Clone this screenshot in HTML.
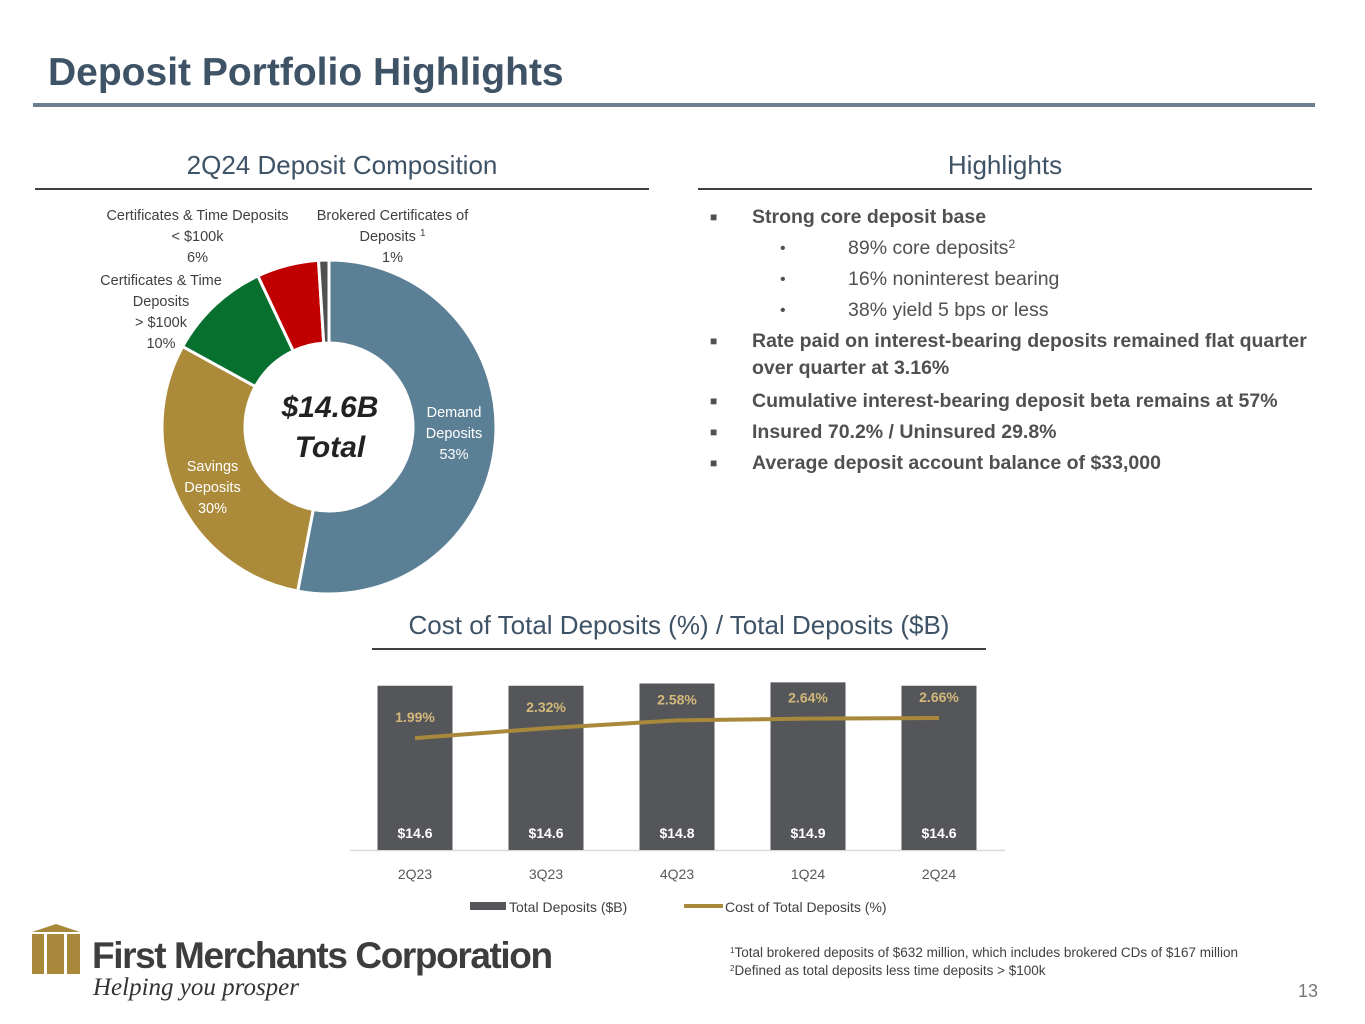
<!DOCTYPE html>
<html><head><meta charset="utf-8">
<style>
body{margin:0;width:1365px;height:1024px;background:#fff;position:relative;overflow:hidden;font-family:"Liberation Sans",sans-serif;}
.abs{position:absolute;}
.title{left:48px;top:51px;font-size:39px;font-weight:bold;color:#3f5366;}
.sec{font-size:26px;color:#3f5366;text-align:center;}
.hl{left:710px;top:202px;font-size:19.5px;color:#505050;line-height:31px;}
.hl div{position:relative;height:31px;}
.b{font-weight:bold;}
.sq{position:absolute;left:0;font-size:12px;}
sup{line-height:0;vertical-align:0;position:relative;top:-0.5em;}
.lbl{position:absolute;font-size:14.5px;color:#404040;text-align:center;line-height:21px;}
</style></head>
<body>
<div class="abs title">Deposit Portfolio Highlights</div>
<div class="abs" style="left:33px;top:103px;width:1282px;height:4px;background:#6b7f91"></div>

<div class="abs sec" style="left:35px;top:150px;width:614px">2Q24 Deposit Composition</div>
<div class="abs" style="left:35px;top:188px;width:614px;height:2px;background:#404040"></div>
<div class="abs sec" style="left:698px;top:150px;width:614px">Highlights</div>
<div class="abs" style="left:698px;top:188px;width:614px;height:2px;background:#404040"></div>

<svg class="abs" style="left:0;top:0" width="700" height="620" id="donut"></svg>
<div class="lbl" style="left:95px;top:206px;width:205px">Certificates &amp; Time Deposits<br>&lt; $100k<br>6%</div>
<div class="lbl" style="left:305px;top:206px;width:175px">Brokered Certificates of<br>Deposits <sup style="font-size:10px">1</sup><br>1%</div>
<div class="lbl" style="left:85px;top:271px;width:152px">Certificates &amp; Time<br>Deposits<br>&gt; $100k<br>10%</div>
<div class="lbl" style="left:410px;top:403px;width:88px;color:#fff">Demand<br>Deposits<br>53%</div>
<div class="lbl" style="left:170px;top:457px;width:85px;color:#fff">Savings<br>Deposits<br>30%</div>
<div class="abs" style="left:250px;top:388px;width:160px;text-align:center;font-size:30px;font-weight:bold;font-style:italic;color:#222;line-height:40px">$14.6B<br>Total</div>

<div class="abs hl">
<div class="b" style="padding-left:42px"><span class="sq">■</span>Strong core deposit base</div>
<div style="padding-left:138px"><span class="sq" style="left:70px;font-size:16px">•</span>89% core deposits<sup style="font-size:12px">2</sup></div>
<div style="padding-left:138px"><span class="sq" style="left:70px;font-size:16px">•</span>16% noninterest bearing</div>
<div style="padding-left:138px"><span class="sq" style="left:70px;font-size:16px">•</span>38% yield 5 bps or less</div>
<div class="b" style="padding-left:42px;line-height:27px;height:58px;padding-top:2px"><span class="sq">■</span>Rate paid on interest-bearing deposits remained flat quarter<br>over quarter at 3.16%</div>
<div class="b" style="padding-left:42px"><span class="sq">■</span>Cumulative interest-bearing deposit beta remains at 57%</div>
<div class="b" style="padding-left:42px"><span class="sq">■</span>Insured 70.2% / Uninsured 29.8%</div>
<div class="b" style="padding-left:42px"><span class="sq">■</span>Average deposit account balance of $33,000</div>
</div>

<div class="abs sec" style="left:372px;top:610px;width:614px">Cost of Total Deposits (%) / Total Deposits ($B)</div>
<div class="abs" style="left:372px;top:648px;width:614px;height:2px;background:#404040"></div>
<svg class="abs" style="left:0;top:0" width="1365" height="930" id="bars"></svg>

<div class="abs" style="left:30px;top:922px;width:52px;height:56px">
<svg width="52" height="56"><polygon points="2,10 26,2 50,10 50,52 2,52" fill="#a8883a"/><rect x="14" y="12" width="3" height="40" fill="#fff"/><rect x="34" y="12" width="3" height="40" fill="#fff"/><rect x="2" y="10" width="48" height="2" fill="#fff"/></svg></div>
<div class="abs" style="left:92px;top:935px;font-size:37px;font-weight:bold;color:#3d3d3d;letter-spacing:-1.4px">First Merchants Corporation</div>
<div class="abs" style="left:93px;top:974px;font-size:25px;font-style:italic;font-family:'Liberation Serif',serif;color:#333">Helping you prosper</div>
<div class="abs" style="left:730px;top:944px;font-size:13.5px;color:#404040;line-height:18px"><sup style="font-size:8px">1</sup>Total brokered deposits of $632 million, which includes brokered CDs of $167 million<br><sup style="font-size:8px">2</sup>Defined as total deposits less time deposits &gt; $100k</div>
<div class="abs" style="left:1298px;top:981px;font-size:18px;color:#777">13</div>

<script>
const sliceNames=["demand","savings","cd-over-100k","cd-under-100k","brokered"];
const slicePct=[53,30,10,6,1];
const sliceColors=["#5b7f95","#ab8a3a","#08702f","#c00000","#505050"];
const quarters=["2Q23","3Q23","4Q23","1Q24","2Q24"];
const totalDeposits=[14.6,14.6,14.8,14.9,14.6];
const totalLabels=["$14.6","$14.6","$14.8","$14.9","$14.6"];
const costPct=[1.99,2.32,2.58,2.64,2.66];
const costLabels=["1.99%","2.32%","2.58%","2.64%","2.66%"];
const NS="http://www.w3.org/2000/svg";
function mk(parent,tag,attrs){const e=document.createElementNS(NS,tag);for(const k in attrs)e.setAttribute(k,attrs[k]);parent.appendChild(e);return e;}
const d=document.getElementById('donut');
const cx=329,cy=427,R=167,r=84;
let acc=0;const tot=slicePct.reduce((a,b)=>a+b,0);
slicePct.forEach((v,i)=>{
 const a0=acc/tot*2*Math.PI,a1=(acc+v)/tot*2*Math.PI;acc+=v;
 const p=(a,rr)=>[cx+rr*Math.sin(a),cy-rr*Math.cos(a)];
 const [x0,y0]=p(a0,R),[x1,y1]=p(a1,R),[x2,y2]=p(a1,r),[x3,y3]=p(a0,r);
 const lg=(a1-a0)>Math.PI?1:0;
 const path=mk(d,'path',{d:`M${x0},${y0}A${R},${R} 0 ${lg} 1 ${x1},${y1}L${x2},${y2}A${r},${r} 0 ${lg} 0 ${x3},${y3}Z`,fill:sliceColors[i],stroke:'#fff','stroke-width':3});
 
 
});
const s=document.getElementById('bars');
const base=850,x0=415,step=131,bw=75;
const yB=v=>base-v*11.25;
const yL=v=>base-(v+1.74)*30;
const xC=i=>x0+i*step;
const axis=mk(s,'line',{x1:350,x2:1005,y1:base+0.5,y2:base+0.5,stroke:'#d9d9d9','stroke-width':1.5});


totalDeposits.forEach((v,i)=>{
 const b=mk(s,'rect',{x:xC(i)-bw/2,y:yB(v),width:bw,height:base-yB(v),fill:'#55565a'});
 
 
 const t=mk(s,'text',{x:xC(i),y:838,'text-anchor':'middle','font-size':14,'font-weight':'bold',fill:'#fff','font-family':'Liberation Sans'});
 t.textContent=totalLabels[i];
 
 
 const q=mk(s,'text',{x:xC(i),y:879,'text-anchor':'middle','font-size':14,fill:'#595959','font-family':'Liberation Sans'});
 q.textContent=quarters[i];
 
 
});
const line=mk(s,'polyline',{points:costPct.map((v,i)=>xC(i)+','+yL(v)).join(' '),fill:'none',stroke:'#a8883a','stroke-width':4,'stroke-linejoin':'round'});


costPct.forEach((v,i)=>{
 const t=mk(s,'text',{x:xC(i),y:yL(v)-16,'text-anchor':'middle','font-size':14,'font-weight':'bold',fill:'#d2b97a','font-family':'Liberation Sans'});
 t.textContent=costLabels[i];
 
 
});
const lg1=mk(s,'rect',{x:470,y:902,width:36,height:8,fill:'#55565a'});


const lt1=mk(s,'text',{x:509,y:912,'font-size':14,fill:'#404040','font-family':'Liberation Sans'});
lt1.textContent='Total Deposits ($B)';


const lg2=mk(s,'line',{x1:684,x2:723,y1:906,y2:906,stroke:'#a8883a','stroke-width':4});


const lt2=mk(s,'text',{x:725,y:912,'font-size':14,fill:'#404040','font-family':'Liberation Sans'});
lt2.textContent='Cost of Total Deposits (%)';


</script>
</body></html>
